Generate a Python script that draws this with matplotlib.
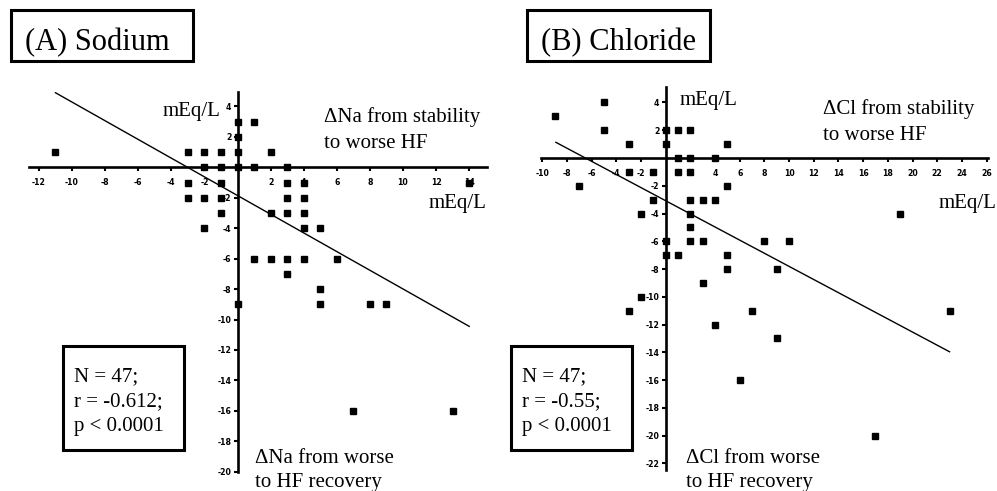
import matplotlib
matplotlib.use("Agg")
import matplotlib.pyplot as plt
from matplotlib.patches import Rectangle

W, H = 997, 491

# ---------------- data ----------------
# Panel A: sodium (x = change stability->worse HF, y = change worse->recovery)
na_x = [-11, 0, 1, 0, -3, -2, -1, 0, 2, -2, -1, 0, 1, 3,
        -3, -1, 3, 4, 14, -3, -2, -1, 3, 4, -1, 2, 3, 4,
        -2, 4, 5, 1, 2, 3, 4, 6, 3, 5, 0, 5, 8, 9, 7, 13]
na_y = [1, 3, 3, 2, 1, 1, 1, 1, 1, 0, 0, 0, 0, 0,
        -1, -1, -1, -1, -1, -2, -2, -2, -2, -2, -3, -3, -3, -3,
        -4, -4, -4, -6, -6, -6, -6, -6, -7, -8, -9, -9, -9, -9, -16, -16]
na_line_x = [-11, 14]
na_line_y = [4.9, -10.45]

# Panel B: chloride
cl_x = [-9, -5, -5, -3, -7, -3, -1, -1, -2, 0, 1, 2, 0, 5, 1, 2, 4,
        1, 2, 5, 2, 3, 4, 2, 2, 0, 2, 3, 8, 10, 0, 1, 5, 5, 9, 3,
        -2, -3, 7, 23, 4, 9, 6, 17, 19]
cl_y = [3, 4, 2, 1, -2, -1, -1, -3, -4, 2, 2, 2, 1, 1, 0, 0, 0,
        -1, -1, -2, -3, -3, -3, -4, -5, -6, -6, -6, -6, -6, -7, -7, -7, -8, -8, -9,
        -10, -11, -11, -11, -12, -13, -16, -20, -4]
cl_line_x = [-8.9, 23]
cl_line_y = [1.13, -13.96]

na_xticks = [-12, -10, -8, -6, -4, -2, 2, 4, 6, 8, 10, 12, 14]
na_yticks = [4, 2, -2, -4, -6, -8, -10, -12, -14, -16, -18, -20]
cl_xticks = [-10, -8, -6, -4, -2, 2, 4, 6, 8, 10, 12, 14, 16, 18, 20, 22, 24, 26]
cl_yticks = [4, 2, -2, -4, -6, -8, -10, -12, -14, -16, -18, -20, -22]

fig = plt.figure(figsize=(W / 100, H / 100), dpi=100)
fig.patch.set_facecolor("white")

SERIF = ["Liberation Serif", "DejaVu Serif"]
TICKFONT = {"family": "DejaVu Sans", "weight": "bold", "size": 5.6}


def make_axes(x0, y0, sx, sy, xlim, ylim):
    left = x0 + xlim[0] * sx
    right = x0 + xlim[1] * sx
    top = y0 - ylim[1] * sy
    bottom = y0 - ylim[0] * sy
    ax = fig.add_axes([left / W, 1 - bottom / H, (right - left) / W, (bottom - top) / H])
    ax.set_xlim(*xlim)
    ax.set_ylim(*ylim)
    ax.patch.set_alpha(0)
    for s in ("top", "right"):
        ax.spines[s].set_visible(False)
    ax.spines["left"].set_position(("data", 0))
    ax.spines["bottom"].set_position(("data", 0))
    for s in ("left", "bottom"):
        ax.spines[s].set_linewidth(1.9)
    ax.tick_params(axis="x", direction="out", length=2.6, width=1.5, pad=5.0)
    ax.tick_params(axis="y", direction="out", length=3.0, width=1.5, pad=1.5)
    return ax


def style_ticks(ax, xt, yt):
    ax.set_xticks(xt)
    ax.set_xticklabels([str(v).replace("-", "-") for v in xt], fontdict=TICKFONT)
    ax.set_yticks(yt)
    ax.set_yticklabels([str(v) for v in yt], fontdict=TICKFONT)


# Panel A
axA = make_axes(237.5, 167.3, 16.55, 15.22, (-12.6, 15.08), (-20.05, 4.97))
style_ticks(axA, na_xticks, na_yticks)
axA.plot(na_line_x, na_line_y, color="black", lw=1.0, zorder=3)
axA.plot(na_x, na_y, ls="none", marker="s", ms=5.0, color="black", zorder=4, clip_on=False)

# Panel B
axB = make_axes(665.7, 158.0, 12.34, 13.88, (-10.1, 26.1), (-22.5, 5.1))
style_ticks(axB, cl_xticks, cl_yticks)
axB.plot(cl_line_x, cl_line_y, color="black", lw=1.0, zorder=3)
axB.plot(cl_x, cl_y, ls="none", marker="s", ms=5.0, color="black", zorder=4, clip_on=False)


def box(x1, y1, x2, y2, lw=2.2):
    r = Rectangle((x1 / W, 1 - y2 / H), (x2 - x1) / W, (y2 - y1) / H,
                  transform=fig.transFigure, fill=False, ec="black", lw=lw, zorder=5)
    fig.add_artist(r)


def ftext(x, y, s, size=15, ha="left"):
    fig.text(x / W, 1 - y / H, s, fontsize=size, family=SERIF, ha=ha, va="baseline",
             color="black")


# Title boxes
box(11, 10, 193.3, 60.7)
ftext(25, 50, "(A) Sodium", size=22)
box(527.3, 10, 710, 60.7)
ftext(540.7, 50, "(B) Chloride", size=22)

# Stats boxes
box(62.7, 346, 184, 450)
ftext(74.3, 381, "N = 47;")
ftext(74.3, 406, "r = -0.612;")
ftext(74.3, 431, "p < 0.0001")
box(510.7, 346, 631.7, 450)
ftext(521.7, 381, "N = 47;")
ftext(521.7, 406, "r = -0.55;")
ftext(521.7, 431, "p < 0.0001")

# Panel A annotations
ftext(163, 116.5, "mEq/L")
ftext(324, 122.3, "\u0394Na from stability")
ftext(324, 148.3, "to worse HF")
ftext(486.7, 208.3, "mEq/L", ha="right")
ftext(255, 462.7, "\u0394Na from worse")
ftext(255, 487, "to HF recovery")

# Panel B annotations
ftext(680, 105, "mEq/L")
ftext(823.3, 114.3, "\u0394Cl from stability")
ftext(823.3, 140, "to worse HF")
ftext(996, 208.3, "mEq/L", ha="right")
ftext(686, 462.7, "\u0394Cl from worse")
ftext(686, 487, "to HF recovery")

fig.savefig("out.png", dpi=100, facecolor="white")
